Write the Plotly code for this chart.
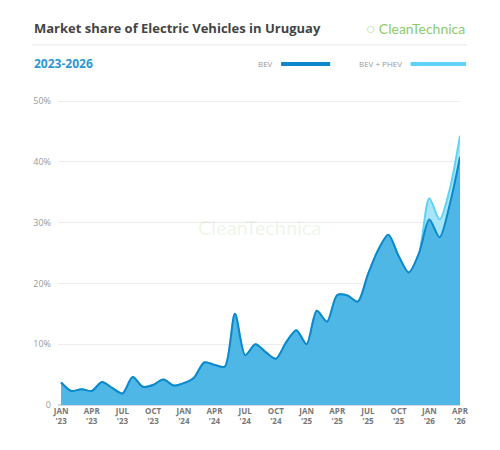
import plotly.graph_objects as go

# monthly market share, Jan 2023 .. Apr 2026
months = list(range(40))
bev = [3.7, 2.3, 2.6, 2.3, 3.8, 2.8, 1.9, 4.6, 3.0, 3.3, 4.2, 3.2,
       3.6, 4.5, 7.0, 6.6, 6.3, 15.0, 8.2, 10.0, 8.7, 7.6, 10.3, 12.3,
       10.0, 15.5, 13.7, 18.1, 18.0, 17.0, 21.5, 25.5, 28.0, 24.5, 21.8, 25.0,
       30.5, 27.6, 33.0, 40.8]
bev_phev = bev[:36] + [34.0, 30.5, 35.5, 44.3]

tick_pos = list(range(0, 40, 3))
tick_text = [m + "<br>'" + y for y in ["23", "24", "25", "26"]
             for m in ["JAN", "APR", "JUL", "OCT"]][:14]
y_ticks = [0, 10, 20, 30, 40, 50]
y_labels = ["0", "10%", "20%", "30%", "40%", "50%"]

fig = go.Figure()

fig.add_trace(go.Scatter(
    x=months, y=bev_phev, mode="lines", fill="tozeroy",
    line=dict(color="#5fd3f7", width=2, shape="spline", smoothing=0.8),
    fillcolor="#a9e5fa", hoverinfo="skip", showlegend=False))
fig.add_trace(go.Scatter(
    x=months, y=bev, mode="lines", fill="tozeroy",
    line=dict(color="#0b87cc", width=2, shape="spline", smoothing=0.8),
    fillcolor="#4fb7e6", hoverinfo="skip", showlegend=False))

# faint watermark
fig.add_annotation(x=0.5, y=0.58, xref="paper", yref="paper", text="CleanTechnica",
                   showarrow=False, font=dict(size=20, color="rgba(140,200,120,0.18)",
                                              family="Lato"))

# header (paper y above 1 sits in the top margin)
fig.add_annotation(x=-0.065, y=1.228, xref="paper", yref="paper", xanchor="left", yanchor="middle",
                   text="<b>Market share of Electric Vehicles in Uruguay</b>", showarrow=False,
                   font=dict(size=13, color="#444", family="Open Sans"))
fig.add_annotation(x=1.017, y=1.228, xref="paper", yref="paper", xanchor="right", yanchor="middle",
                   text="◌ CleanTechnica", showarrow=False,
                   font=dict(size=14, color="#8ccb6a", family="Lato"))
fig.add_annotation(x=-0.065, y=1.111, xref="paper", yref="paper", xanchor="left", yanchor="middle",
                   text="<b>2023-2026</b>", showarrow=False,
                   font=dict(size=12, color="#2a97d4", family="Open Sans"))
fig.add_annotation(x=0.54, y=1.111, xref="paper", yref="paper", xanchor="right", yanchor="middle",
                   text="BEV", showarrow=False, font=dict(size=8, color="#999", family="Open Sans"))
fig.add_annotation(x=0.86, y=1.111, xref="paper", yref="paper", xanchor="right", yanchor="middle",
                   text="BEV + PHEV", showarrow=False, font=dict(size=8, color="#999", family="Open Sans"))

fig.update_layout(
    width=500, height=450,
    paper_bgcolor="white", plot_bgcolor="white",
    margin=dict(l=50, r=48, t=90, b=53),
    shapes=[
        dict(type="line", xref="paper", yref="paper", x0=-0.065, x1=1.017, y0=1.173, y1=1.173,
             line=dict(color="#e6e6e6", width=1)),
        dict(type="line", xref="paper", yref="paper", x0=0.555, x1=0.677, y0=1.111, y1=1.111,
             line=dict(color="#0b87cc", width=4)),
        dict(type="line", xref="paper", yref="paper", x0=0.877, x1=1.015, y0=1.111, y1=1.111,
             line=dict(color="#5fd3f7", width=4)),
    ],
    xaxis=dict(range=[-0.3, 39.0], tickvals=tick_pos, ticktext=tick_text,
               showgrid=False, zeroline=False, showline=False,
               tickfont=dict(size=8, color="#777", family="Open Sans", weight="bold")),
    yaxis=dict(range=[0, 50.5], tickvals=y_ticks, ticktext=y_labels,
               gridcolor="#ececec", zeroline=True, zerolinecolor="#d8d8d8",
               tickfont=dict(size=9, color="#999", family="Open Sans"), ticklabelstandoff=6),
)

fig.write_html("out.html")
